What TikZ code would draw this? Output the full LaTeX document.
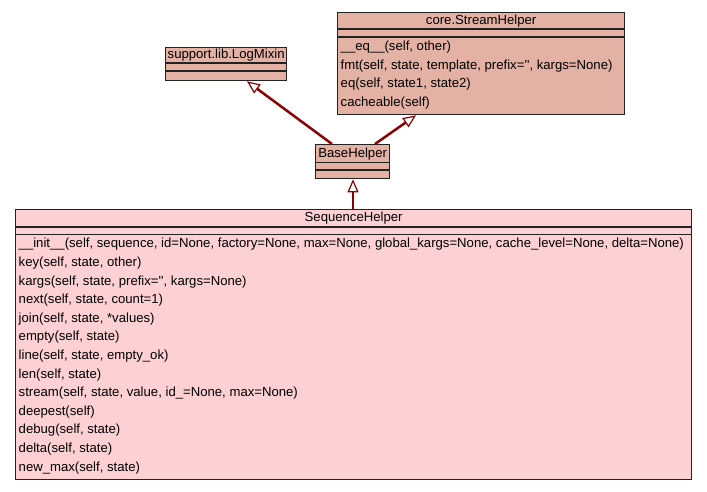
\documentclass[tikz,border=0pt]{standalone}
\usepackage{fontspec}
\setmainfont{Liberation Sans}
\usetikzlibrary{arrows.meta,calc}
\definecolor{salmonfill}{HTML}{E4B2A4}
\definecolor{pinkfill}{HTML}{FDD0D4}
\definecolor{edgecol}{HTML}{8B0000}
\definecolor{framecol}{HTML}{222222}
\begin{document}
\begin{tikzpicture}[x=1pt,y=-1pt,
  cls/.style={draw=framecol, line width=1.3pt, rectangle, inner sep=0pt, anchor=north west},
  sepline/.style={draw=framecol, line width=1.3pt},
  ttext/.style={inner sep=0pt, anchor=center, font=\fontsize{13.15}{15}\selectfont},
  mtext/.style={inner sep=0pt, anchor=west, font=\fontsize{13.15}{15}\selectfont},
  inh/.style={draw=edgecol, line width=2.5pt,
    -{Triangle[length=13pt,width=11pt,fill=white,line width=1.2pt]}}]
\useasboundingbox[fill=white] (0,0) rectangle (707,491);

% core.StreamHelper
\node[cls, fill=salmonfill, minimum width=287pt, minimum height=102pt] (sh) at (337,12) {};
\draw[sepline] ($(sh.north west)+(0,17)$) -- ($(sh.north east)+(0,17)$);
\draw[sepline] ($(sh.north west)+(0,25)$) -- ($(sh.north east)+(0,25)$);
\node[ttext] (sht) at ($(sh.north)+(0,9)$) {core.StreamHelper};
\node[mtext] (shm1) at ($(sh.north west)+(3.5,35.5)$) {\_\_eq\_\_(self, other)};
\node[mtext] (shm2) at ($(sh.north west)+(3.5,54)$) {fmt(self, state, template, prefix=\textquotesingle\textquotesingle, kargs=None)};
\node[mtext] (shm3) at ($(sh.north west)+(3.5,72.5)$) {eq(self, state1, state2)};
\node[mtext] (shm4) at ($(sh.north west)+(3.5,91)$) {cacheable(self)};

% support.lib.LogMixin
\node[cls, fill=salmonfill, minimum width=121pt, minimum height=33pt] (lm) at (165,47) {};
\draw[sepline] ($(lm.north west)+(0,16)$) -- ($(lm.north east)+(0,16)$);
\draw[sepline] ($(lm.north west)+(0,24)$) -- ($(lm.north east)+(0,24)$);
\node[ttext] (lmt) at ($(lm.north)+(0,8.5)$) {support.lib.LogMixin};

% BaseHelper
\node[cls, fill=salmonfill, minimum width=74pt, minimum height=34pt] (bh) at (315,144) {};
\draw[sepline] ($(bh.north west)+(0,18.5)$) -- ($(bh.north east)+(0,18.5)$);
\draw[sepline] ($(bh.north west)+(0,26)$) -- ($(bh.north east)+(0,26)$);
\node[ttext] (bht) at ($(bh.north)+(0,10)$) {BaseHelper};

% SequenceHelper
\node[cls, fill=pinkfill, minimum width=676pt, minimum height=270pt] (sq) at (15,209) {};
\draw[sepline] ($(sq.north west)+(0,18)$) -- ($(sq.north east)+(0,18)$);
\draw[sepline] ($(sq.north west)+(0,25.5)$) -- ($(sq.north east)+(0,25.5)$);
\node[ttext] (sqt) at ($(sq.north)+(0,9.5)$) {SequenceHelper};
\foreach \i/\txt in {0/{\_\_init\_\_(self, sequence, id=None, factory=None, max=None, global\_kargs=None, cache\_level=None, delta=None)},
  1/{key(self, state, other)},
  2/{kargs(self, state, prefix=\textquotesingle\textquotesingle, kargs=None)},
  3/{next(self, state, count=1)},
  4/{join(self, state, *values)},
  5/{empty(self, state)},
  6/{line(self, state, empty\_ok)},
  7/{len(self, state)},
  8/{stream(self, state, value, id\_=None, max=None)},
  9/{deepest(self)},
  10/{debug(self, state)},
  11/{delta(self, state)},
  12/{new\_max(self, state)}}
  \node[mtext] (sqm\i) at ($(sq.north west)+(3.5,35.5+18.6*\i)$) {\txt};

% inheritance connectors
\draw[inh] ($(bh.north west)+(17,0)$) -- ($(lm.south west)+(82,0)$);
\draw[inh] ($(bh.north west)+(60,0)$) -- ($(sh.south west)+(79,0)$);
\draw[inh] ($(sq.north west)+(338,0)$) -- ($(sq.north west |- bh.south)+(338,0)$);
\end{tikzpicture}
\end{document}
